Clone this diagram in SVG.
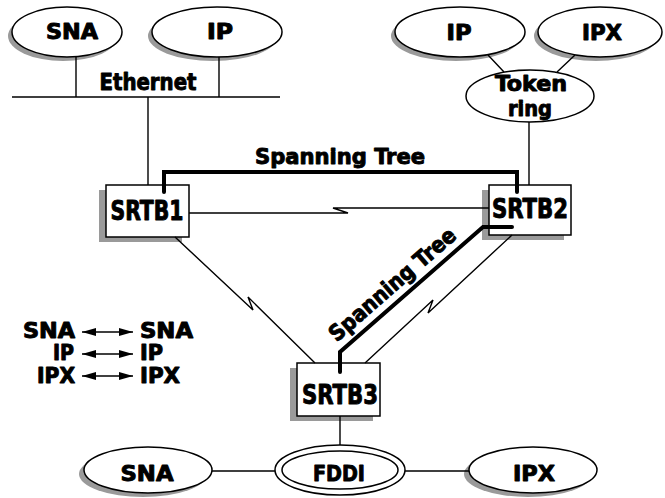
<svg xmlns="http://www.w3.org/2000/svg" width="665" height="498" viewBox="0 0 665 498">
<defs>
<style>
.t{font-family:"Liberation Sans Narrow","DejaVu Sans Condensed","Liberation Sans",sans-serif;font-weight:bold;fill:#000;stroke:#000;stroke-width:0.9;stroke-linejoin:round;text-anchor:middle}
.sh{fill:#9a9a9a;stroke:none}
.n{fill:#fff;stroke:#000;stroke-width:1.5}
.c{fill:none;stroke:#000;stroke-width:1.4}
.st{fill:none;stroke:#000;stroke-width:4;stroke-linecap:round;stroke-linejoin:miter}
</style>
<marker id="ah" viewBox="0 0 14 8" refX="14" refY="4" markerWidth="14" markerHeight="8" markerUnits="userSpaceOnUse" orient="auto-start-reverse"><path d="M0,0 L14,4 L0,8 Z" fill="#000"/></marker>
</defs>
<rect width="665" height="498" fill="#fff"/>

<g id="eth-sna">
<ellipse class="sh" cx="63" cy="36" rx="55" ry="25"/>
<ellipse class="n" cx="67" cy="32" rx="55" ry="25"/>
<text class="t" x="72" y="39" font-size="21" textLength="52" lengthAdjust="spacingAndGlyphs">SNA</text>
</g>
<g id="eth-ip">
<ellipse class="sh" cx="213" cy="36" rx="65" ry="25"/>
<ellipse class="n" cx="217" cy="32" rx="65" ry="25"/>
<text class="t" x="220" y="39" font-size="21" textLength="26" lengthAdjust="spacingAndGlyphs">IP</text>
</g>
<g id="ethernet">
<text class="t" x="148" y="90" font-size="23" textLength="97" lengthAdjust="spacingAndGlyphs">Ethernet</text>
</g>
<g id="tr-ip">
<ellipse class="sh" cx="456" cy="36" rx="65" ry="25"/>
<ellipse class="n" cx="460" cy="32" rx="65" ry="25"/>
<text class="t" x="459" y="40" font-size="22" textLength="25" lengthAdjust="spacingAndGlyphs">IP</text>
</g>
<g id="tr-ipx">
<ellipse class="sh" cx="596" cy="36" rx="62" ry="25"/>
<ellipse class="n" cx="600" cy="32" rx="62" ry="25"/>
<text class="t" x="602" y="40" font-size="22" textLength="40" lengthAdjust="spacingAndGlyphs">IPX</text>
</g>
<g id="token-ring">
<ellipse class="n" cx="530" cy="96" rx="64" ry="26"/>
<text class="t" x="531" y="91" font-size="21" textLength="72" lengthAdjust="spacingAndGlyphs">Token</text>
<text class="t" x="530" y="116" font-size="21" textLength="44" lengthAdjust="spacingAndGlyphs">ring</text>
</g>
<g id="srtb1">
<rect class="sh" x="99" y="190" width="83" height="52"/>
<rect class="n" x="106" y="185" width="83" height="52"/>
<text class="t" x="147" y="220" font-size="26" textLength="73" lengthAdjust="spacingAndGlyphs">SRTB1</text>
</g>
<g id="srtb2">
<rect class="sh" x="482" y="190" width="82" height="50"/>
<rect class="n" x="489" y="185" width="82" height="50"/>
<text class="t" x="530" y="218" font-size="26" textLength="76" lengthAdjust="spacingAndGlyphs">SRTB2</text>
</g>
<g id="srtb3">
<rect class="sh" x="290" y="368" width="83" height="53"/>
<rect class="n" x="297" y="363" width="83" height="53"/>
<text class="t" x="340" y="404" font-size="27" textLength="76" lengthAdjust="spacingAndGlyphs">SRTB3</text>
</g>
<g id="fddi-sna">
<ellipse class="sh" cx="143" cy="474" rx="64" ry="23"/>
<ellipse class="n" cx="148" cy="470" rx="64" ry="23"/>
<text class="t" x="147" y="481" font-size="22" textLength="53" lengthAdjust="spacingAndGlyphs">SNA</text>
</g>
<g id="fddi">
<ellipse class="n" cx="340" cy="470" rx="65" ry="25"/>
<ellipse class="n" cx="340" cy="470" rx="58" ry="19"/>
<text class="t" x="339" y="481" font-size="22" textLength="52" lengthAdjust="spacingAndGlyphs">FDDI</text>
</g>
<g id="fddi-ipx">
<ellipse class="sh" cx="528" cy="474" rx="64" ry="23"/>
<ellipse class="n" cx="533" cy="470" rx="64" ry="23"/>
<text class="t" x="534" y="481" font-size="22" textLength="42" lengthAdjust="spacingAndGlyphs">IPX</text>
</g>

<g id="connectors">
<path class="c" d="M76,57 V97 M219,57 V97 M12,97 H280 M148,97 V185"/>
<path class="c" d="M488,55 L504,72 M575,55 L557,72 M529,122 V185"/>
<path class="c" d="M189,213 H348 L333,208 H489"/>
<path class="c" d="M175,237 L253,310 L248,297 L315,363"/>
<path class="c" d="M365,363 L433,300 L428,313 L512,235"/>
<path class="c" d="M340,416 V445 M212,471 H275 M405,471 H469"/>
</g>

<g id="spanning-tree">
<path class="st" d="M164,192 V172 H517 V192"/>
<path class="st" d="M512,227 H483 L340,352 V372"/>
<text class="t" x="340" y="164" font-size="22" textLength="170" lengthAdjust="spacingAndGlyphs">Spanning Tree</text>
<text class="t" transform="translate(392,284) rotate(-41)" x="0" y="8" font-size="22" textLength="160" lengthAdjust="spacingAndGlyphs">Spanning Tree</text>
</g>

<g id="legend">
<text class="t" x="49" y="338" font-size="21" textLength="52" lengthAdjust="spacingAndGlyphs">SNA</text>
<text class="t" x="166.5" y="338" font-size="21" textLength="53" lengthAdjust="spacingAndGlyphs">SNA</text>
<text class="t" x="63.5" y="360" font-size="21" textLength="21" lengthAdjust="spacingAndGlyphs">IP</text>
<text class="t" x="151.5" y="360" font-size="21" textLength="23" lengthAdjust="spacingAndGlyphs">IP</text>
<text class="t" x="56" y="383" font-size="21" textLength="38" lengthAdjust="spacingAndGlyphs">IPX</text>
<text class="t" x="160" y="383" font-size="21" textLength="40" lengthAdjust="spacingAndGlyphs">IPX</text>
<path class="c" d="M82,332 H133" marker-start="url(#ah)" marker-end="url(#ah)"/>
<path class="c" d="M82,354 H133" marker-start="url(#ah)" marker-end="url(#ah)"/>
<path class="c" d="M82,376 H133" marker-start="url(#ah)" marker-end="url(#ah)"/>
</g>
</svg>
